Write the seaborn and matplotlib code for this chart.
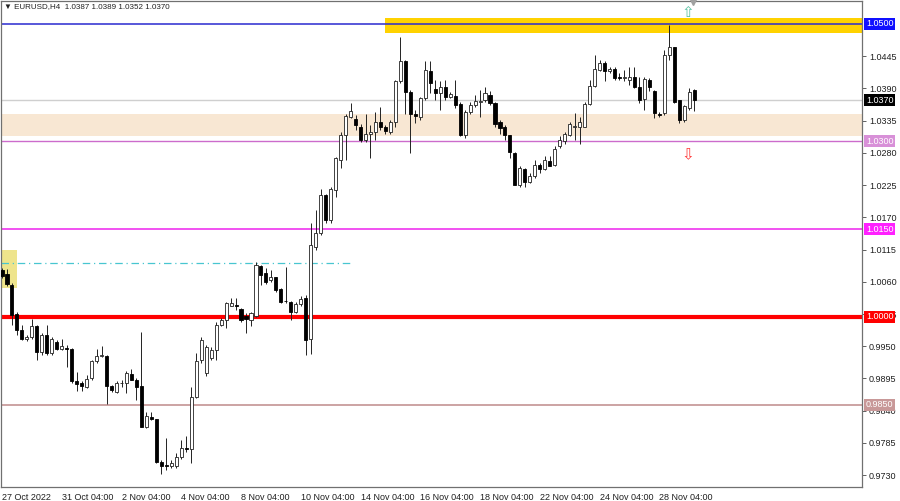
import matplotlib
matplotlib.use("Agg")
import matplotlib.pyplot as plt
import matplotlib.transforms as mtransforms
import numpy as np
import seaborn as sns

sns.set_theme(style="white")
plt.rcParams["font.family"] = ["Liberation Sans", "DejaVu Sans"]

# EURUSD H4 candles, 27 Oct 2022 04:00 .. 29 Nov 2022 08:00 (one bar every 4 hours)
opens = [
    1.0080, 1.0073, 1.0055, 1.0005, 0.9978, 0.9962, 0.9966, 0.9984, 0.9941, 0.9969,
    0.9938, 0.9958, 0.9945, 0.9947, 0.9945, 0.9891, 0.9888, 0.9881, 0.9895, 0.9924,
    0.9933, 0.9933, 0.9882, 0.9872, 0.9887, 0.9887, 0.9903, 0.9892, 0.9882, 0.9813,
    0.9830, 0.9825, 0.9753, 0.9747, 0.9745, 0.9746, 0.9761, 0.9776, 0.9774, 0.9864,
    0.9926, 0.9904, 0.9930, 0.9944, 0.9986, 0.9995, 1.0019, 1.0021, 1.0013, 1.0001,
    0.9995, 1.0001, 1.0087, 1.0075, 1.0063, 1.0068, 1.0047, 1.0028, 1.0026, 1.0009,
    1.0022, 1.0033, 0.9962, 1.0120, 1.0143, 1.0208, 1.0165, 1.0217, 1.0268, 1.0310,
    1.0341, 1.0337, 1.0325, 1.0302, 1.0312, 1.0316, 1.0332, 1.0325, 1.0316, 1.0332,
    1.0402, 1.0436, 1.0384, 1.0347, 1.0342, 1.0373, 1.0420, 1.0389, 1.0383, 1.0392,
    1.0376, 1.0377, 1.0363, 1.0310, 1.0349, 1.0362, 1.0367, 1.0370, 1.0379, 1.0365,
    1.0333, 1.0324, 1.0311, 1.0280, 1.0225, 1.0252, 1.0230, 1.0240, 1.0259, 1.0252,
    1.0266, 1.0259, 1.0292, 1.0301, 1.0311, 1.0324, 1.0325, 1.0325, 1.0363, 1.0394,
    1.0421, 1.0433, 1.0419, 1.0424, 1.0410, 1.0408, 1.0404, 1.0409, 1.0393, 1.0372,
    1.0404, 1.0385, 1.0346, 1.0348, 1.0447, 1.0460, 1.0370, 1.0336, 1.0356, 1.0387,
]
highs = [
    1.0084, 1.0081, 1.0058, 1.0009, 0.9986, 0.9969, 0.9996, 0.9987, 0.9972, 0.9986,
    0.9966, 0.9961, 0.9963, 0.9952, 0.9947, 0.9906, 0.9890, 0.9901, 0.9926, 0.9946,
    0.9950, 0.9935, 0.9884, 0.9890, 0.9892, 0.9907, 0.9912, 0.9895, 0.9975, 0.9838,
    0.9837, 0.9826, 0.9756, 0.9793, 0.9756, 0.9767, 0.9790, 0.9796, 0.9881, 0.9939,
    0.9965, 0.9952, 0.9949, 0.9992, 0.9998, 1.0026, 1.0032, 1.0032, 1.0015, 1.0006,
    1.0009, 1.0094, 1.0089, 1.0083, 1.0080, 1.0069, 1.0049, 1.0086, 1.0028, 1.0026,
    1.0035, 1.0038, 1.0160, 1.0182, 1.0219, 1.0210, 1.0222, 1.0273, 1.0316, 1.0347,
    1.0365, 1.0345, 1.0330, 1.0347, 1.0327, 1.0350, 1.0358, 1.0328, 1.0336, 1.0404,
    1.0478, 1.0438, 1.0387, 1.0353, 1.0376, 1.0436, 1.0436, 1.0404, 1.0402, 1.0404,
    1.0384, 1.0404, 1.0367, 1.0353, 1.0367, 1.0379, 1.0387, 1.0393, 1.0385, 1.0367,
    1.0336, 1.0328, 1.0311, 1.0282, 1.0257, 1.0254, 1.0245, 1.0268, 1.0262, 1.0274,
    1.0274, 1.0292, 1.0308, 1.0316, 1.0333, 1.0348, 1.0342, 1.0367, 1.0404, 1.0447,
    1.0439, 1.0436, 1.0427, 1.0427, 1.0416, 1.0422, 1.0427, 1.0427, 1.0410, 1.0410,
    1.0407, 1.0387, 1.0350, 1.0456, 1.0498, 1.0461, 1.0370, 1.0362, 1.0390, 1.0389,
]
lows = [
    1.0066, 1.0052, 0.9986, 0.9969, 0.9960, 0.9959, 0.9963, 0.9927, 0.9935, 0.9935,
    0.9935, 0.9943, 0.9943, 0.9915, 0.9887, 0.9873, 0.9873, 0.9878, 0.9892, 0.9922,
    0.9932, 0.9852, 0.9872, 0.9870, 0.9881, 0.9870, 0.9892, 0.9859, 0.9812, 0.9810,
    0.9824, 0.9751, 0.9732, 0.9738, 0.9742, 0.9742, 0.9758, 0.9770, 0.9751, 0.9862,
    0.9922, 0.9900, 0.9927, 0.9927, 0.9985, 0.9981, 1.0018, 1.0012, 0.9992, 0.9972,
    0.9984, 1.0000, 1.0055, 1.0057, 1.0060, 1.0043, 1.0023, 1.0023, 0.9995, 1.0006,
    1.0018, 0.9935, 0.9936, 1.0114, 1.0140, 1.0160, 1.0160, 1.0205, 1.0254, 1.0268,
    1.0339, 1.0319, 1.0299, 1.0299, 1.0271, 1.0302, 1.0319, 1.0313, 1.0313, 1.0325,
    1.0399, 1.0347, 1.0279, 1.0331, 1.0336, 1.0370, 1.0382, 1.0370, 1.0353, 1.0370,
    1.0373, 1.0356, 1.0308, 1.0305, 1.0347, 1.0359, 1.0342, 1.0367, 1.0362, 1.0325,
    1.0313, 1.0302, 1.0271, 1.0225, 1.0222, 1.0222, 1.0229, 1.0237, 1.0245, 1.0251,
    1.0257, 1.0257, 1.0288, 1.0296, 1.0308, 1.0302, 1.0296, 1.0325, 1.0362, 1.0393,
    1.0419, 1.0402, 1.0416, 1.0404, 1.0404, 1.0402, 1.0396, 1.0390, 1.0365, 1.0353,
    1.0385, 1.0339, 1.0342, 1.0345, 1.0439, 1.0365, 1.0331, 1.0333, 1.0353, 1.0352,
]
closes = [
    1.0070, 1.0056, 1.0003, 0.9978, 0.9962, 0.9966, 0.9985, 0.9941, 0.9969, 0.9938,
    0.9963, 0.9946, 0.9950, 0.9946, 0.9890, 0.9886, 0.9882, 0.9894, 0.9924, 0.9933,
    0.9935, 0.9882, 0.9875, 0.9888, 0.9888, 0.9904, 0.9893, 0.9881, 0.9813, 0.9831,
    0.9825, 0.9753, 0.9745, 0.9746, 0.9750, 0.9761, 0.9776, 0.9775, 0.9864, 0.9924,
    0.9960, 0.9949, 0.9944, 0.9986, 0.9995, 1.0023, 1.0023, 1.0018, 0.9995, 0.9996,
    1.0006, 1.0089, 1.0072, 1.0060, 1.0068, 1.0046, 1.0026, 1.0027, 1.0009, 1.0022,
    1.0030, 0.9961, 1.0123, 1.0143, 1.0208, 1.0165, 1.0219, 1.0271, 1.0311, 1.0343,
    1.0351, 1.0328, 1.0302, 1.0313, 1.0316, 1.0333, 1.0325, 1.0318, 1.0332, 1.0402,
    1.0436, 1.0384, 1.0347, 1.0343, 1.0373, 1.0421, 1.0399, 1.0383, 1.0392, 1.0376,
    1.0381, 1.0362, 1.0310, 1.0349, 1.0362, 1.0368, 1.0368, 1.0382, 1.0365, 1.0330,
    1.0322, 1.0311, 1.0282, 1.0225, 1.0254, 1.0231, 1.0240, 1.0259, 1.0252, 1.0268,
    1.0258, 1.0286, 1.0302, 1.0312, 1.0329, 1.0326, 1.0333, 1.0363, 1.0394, 1.0423,
    1.0434, 1.0419, 1.0423, 1.0407, 1.0408, 1.0410, 1.0409, 1.0393, 1.0370, 1.0406,
    1.0392, 1.0348, 1.0345, 1.0447, 1.0460, 1.0367, 1.0336, 1.0360, 1.0384, 1.0370,
]

time_ticks = [0, 12, 24, 36, 48, 60, 72, 84, 96, 108, 120, 132]
time_labels = ["27 Oct 2022", "31 Oct 04:00", "2 Nov 04:00", "4 Nov 04:00",
               "8 Nov 04:00", "10 Nov 04:00", "14 Nov 04:00", "16 Nov 04:00",
               "18 Nov 04:00", "22 Nov 04:00", "24 Nov 04:00", "28 Nov 04:00"]
price_ticks = [0.9730, 0.9785, 0.9840, 0.9895, 0.9950, 1.0005, 1.0060, 1.0115,
               1.0170, 1.0225, 1.0280, 1.0335, 1.0390, 1.0445]

# horizontal levels: (price, colour, width)
levels = [(1.0500, "#2a2ad0", 1.1), (1.0370, "#cfcfcf", 1.0), (1.0300, "#cc6ccc", 1.0),
          (1.0150, "#ee22ee", 1.1), (1.0000, "#ff0000", 3.0), (0.9850, "#c49494", 1.2)]
level_labels = [(1.0500, "#1010ff"), (1.0370, "#000000"), (1.0300, "#d890d8"),
                (1.0150, "#ff20ff"), (1.0000, "#ff0000"), (0.9850, "#c89898")]
resistance_zone = (1.0485, 1.0510)
support_zone = (1.0308, 1.0346)
box_zone = (1.0049, 1.0114)
dashdot_level = 1.0092

x = np.arange(len(opens))
o, h, l, c = map(np.array, (opens, highs, lows, closes))

fig = plt.figure(figsize=(9, 5.01), dpi=100)
ax = fig.add_axes([1 / 900, 14 / 501, 861 / 900, 486 / 501])
ax.set_facecolor("white")

ax.set_xlim(-0.2, 172.7)
ax.set_ylim(0.97098, 1.05392)

# zones
ax.axhspan(*support_zone, color="#f8e7d3", lw=0, zorder=0)
ax.fill_between([76.9, 173], resistance_zone[0], resistance_zone[1],
                color="#ffd200", lw=0, zorder=0)
ax.fill_between([-0.2, 2.95], box_zone[0], box_zone[1], color="#eee48c", lw=0, zorder=0)
ax.plot([-0.2, 69.8], [dashdot_level] * 2, color="#48c6d0", lw=0.9,
        ls=(0, (6, 3, 1, 3)), zorder=1)

for price, col, lw in levels:
    ax.axhline(price, color=col, lw=lw, zorder=1)

# candles
up = c >= o
ax.vlines(x, l, h, color="#222222", lw=0.7, zorder=3)
body_lo = np.minimum(o, c)
body_h = np.maximum(np.abs(c - o), 0.00004)
ax.bar(x[up], body_h[up], bottom=body_lo[up], width=0.62, color="white",
       edgecolor="#222222", linewidth=0.6, zorder=4)
ax.bar(x[~up], body_h[~up], bottom=body_lo[~up], width=0.62, color="black",
       edgecolor="black", linewidth=0.6, zorder=4)

# arrows
ax.text(137.8, 1.0520, "\u21e7", color="#55c0a0", fontsize=11, ha="center",
        va="center", zorder=5, family="DejaVu Sans")
ax.text(137.8, 1.0276, "\u21e9", color="#ff3838", fontsize=11, ha="center",
        va="center", zorder=5, family="DejaVu Sans")
ax.plot([138.8], [1.0538], marker="v", color="#a0a0a0", ms=5, clip_on=False, zorder=5)

# axes
ax.yaxis.tick_right()
ax.set_yticks(price_ticks)
ax.set_yticklabels([f"{p:.4f}" for p in price_ticks])
ax.set_xticks(time_ticks)
ax.set_xticklabels(time_labels, ha="left")
ax.tick_params(axis="both", labelsize=6.5, length=3, width=0.7, color="#606060",
               labelcolor="#202020", pad=1.5)
ax.tick_params(axis="y", pad=2)
for s in ax.spines.values():
    s.set_color("#707070")
    s.set_linewidth(0.9)
ax.grid(False)

trans = mtransforms.blended_transform_factory(ax.transAxes, ax.transData)
for price, col in level_labels:
    ax.text(1.0045, price, f"{price:.4f}", transform=trans, color="white",
            fontsize=6.5, va="center", ha="left", zorder=6, clip_on=False,
            bbox=dict(boxstyle="square,pad=0.2", fc=col, ec="none"))

fig.text(4 / 900, 1 - 7 / 501, "\u25bc EURUSD,H4  1.0387 1.0389 1.0352 1.0370",
         fontsize=5.8, color="#202020", va="center", ha="left",
         family=["Liberation Sans", "DejaVu Sans"])

fig.savefig("out.png", dpi=100, facecolor="white")
